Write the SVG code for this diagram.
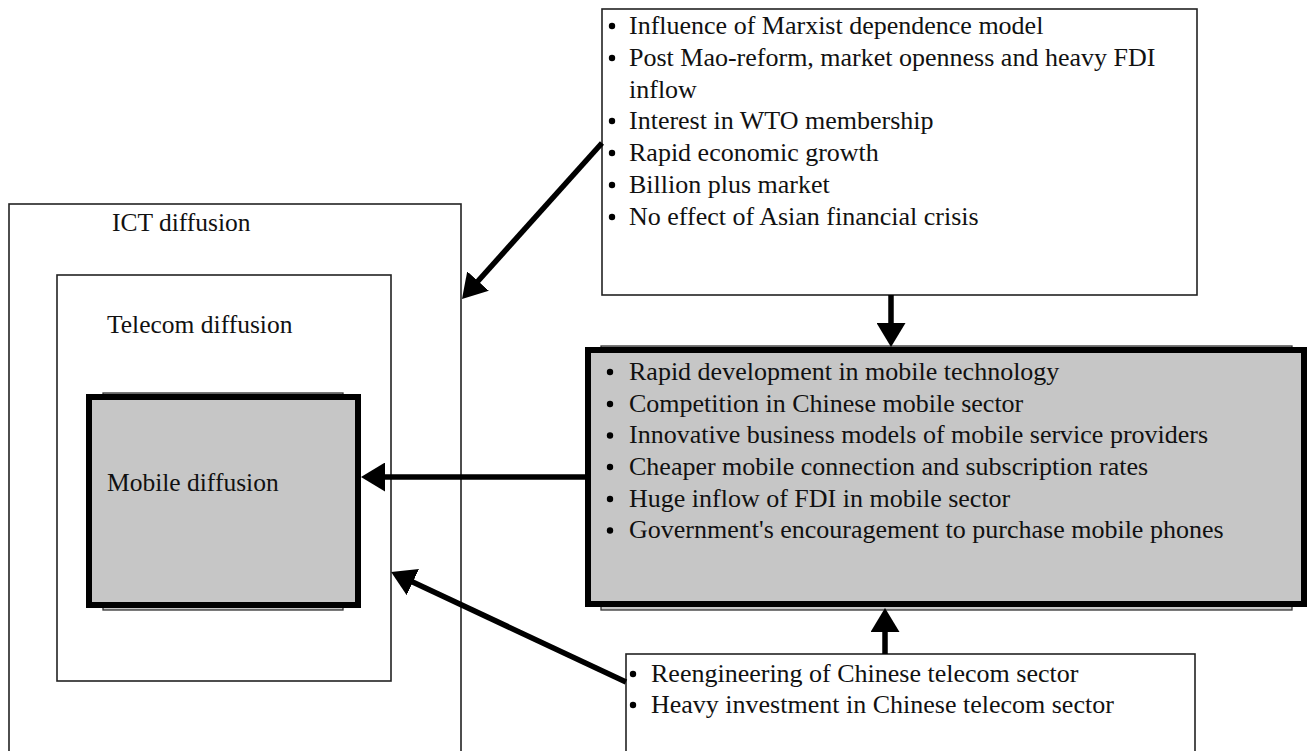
<svg xmlns="http://www.w3.org/2000/svg" width="1307" height="751" viewBox="0 0 1307 751">
<style>
.thin{fill:#fff;stroke:#222;stroke-width:1.6}
.shade{fill:#c6c6c6;stroke:#333;stroke-width:1.3}
.thick{fill:#c6c6c6;stroke:#000;stroke-width:6}
.lbl{font-family:"Liberation Serif","Times New Roman",serif;font-size:25.5px;fill:#111}
.txt{font-family:"Liberation Serif","Times New Roman",serif;font-size:26px;fill:#111}
.bul{fill:#000}
.conn{fill:none;stroke:#000;stroke-width:5.5}
</style>
<defs>
<marker id="ah" viewBox="0 0 24 29" refX="12" refY="14.5" markerWidth="24" markerHeight="29" markerUnits="userSpaceOnUse" orient="auto">
<path d="M0,0 L24,14.5 L0,29 z" fill="#000"/>
</marker>
</defs>
<rect width="1307" height="751" fill="#fff"/>
<g id="ict">
<rect class="thin" x="9" y="204" width="452" height="570"/>
<text class="lbl" x="112" y="231">ICT diffusion</text>
</g>
<g id="telecom">
<rect class="thin" x="57" y="275" width="334" height="406"/>
<text class="lbl" x="107" y="333">Telecom diffusion</text>
</g>
<g id="mobile">
<rect class="shade" x="103" y="393" width="240" height="217"/>
<rect class="thick" x="89" y="397" width="269" height="208"/>
<text class="lbl" x="107" y="491">Mobile diffusion</text>
</g>
<g id="macro">
<rect class="thin" x="602" y="9" width="595" height="286"/>
<g class="bul">
<circle cx="612" cy="26" r="3.2"/>
<circle cx="612" cy="58" r="3.2"/>
<circle cx="612" cy="121" r="3.2"/>
<circle cx="612" cy="153" r="3.2"/>
<circle cx="612" cy="185" r="3.2"/>
<circle cx="612" cy="217" r="3.2"/>
</g>
<text class="txt" x="629" y="34">Influence of Marxist dependence model</text>
<text class="txt" x="629" y="66">Post Mao-reform, market openness and heavy FDI</text>
<text class="txt" x="629" y="97.5">inflow</text>
<text class="txt" x="629" y="129">Interest in WTO membership</text>
<text class="txt" x="629" y="161">Rapid economic growth</text>
<text class="txt" x="629" y="193">Billion plus market</text>
<text class="txt" x="629" y="224.5">No effect of Asian financial crisis</text>
</g>
<g id="mobile-factors">
<rect class="shade" x="601" y="346" width="691" height="264"/>
<rect class="thick" x="588" y="350" width="716" height="254"/>
<g class="bul">
<circle cx="610" cy="372" r="3.2"/>
<circle cx="610" cy="404" r="3.2"/>
<circle cx="610" cy="435.5" r="3.2"/>
<circle cx="610" cy="467" r="3.2"/>
<circle cx="610" cy="499" r="3.2"/>
<circle cx="610" cy="530.5" r="3.2"/>
</g>
<text class="txt" x="629" y="380">Rapid development in mobile technology</text>
<text class="txt" x="629" y="411.7">Competition in Chinese mobile sector</text>
<text class="txt" x="629" y="443.3">Innovative business models of mobile service providers</text>
<text class="txt" x="629" y="475">Cheaper mobile connection and subscription rates</text>
<text class="txt" x="629" y="506.7">Huge inflow of FDI in mobile sector</text>
<text class="txt" x="629" y="538.3">Government's encouragement to purchase mobile phones</text>
</g>
<g id="telecom-factors">
<rect class="thin" x="626" y="654" width="569" height="120"/>
<g class="bul">
<circle cx="633" cy="674" r="3.2"/>
<circle cx="633" cy="705" r="3.2"/>
</g>
<text class="txt" x="651" y="682">Reengineering of Chinese telecom sector</text>
<text class="txt" x="651" y="713">Heavy investment in Chinese telecom sector</text>
</g>
<g id="connectors">
<path class="conn" d="M602,143 L470,290" marker-end="url(#ah)"/>
<path class="conn" d="M891,295 L891,335" marker-end="url(#ah)"/>
<path class="conn" d="M585,477 L373,477" marker-end="url(#ah)"/>
<path class="conn" d="M885,654 L885,620" marker-end="url(#ah)"/>
<path class="conn" d="M626,682 L402,577" marker-end="url(#ah)"/>
</g>
</svg>
